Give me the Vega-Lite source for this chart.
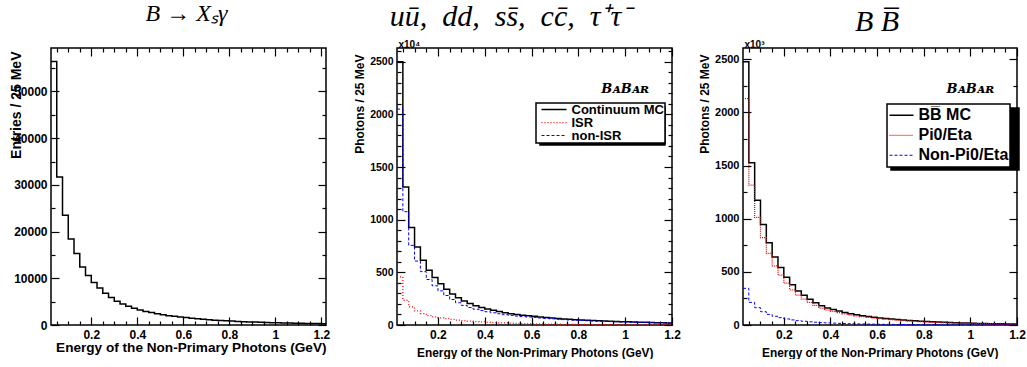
{
  "$schema": "https://vega.github.io/schema/vega-lite/v6.json",
  "background": "white",
  "padding": {"left": 8, "top": 0, "right": 0, "bottom": 0},
  "bounds": "flush",
  "spacing": 71,
  "config": {
    "view": {"stroke": "black", "strokeWidth": 1.5},
    "axis": {"grid": false, "domain": false, "tickColor": "black", "tickWidth": 1.2, "labelFont": "Liberation Sans", "labelFontWeight": "bold", "labelColor": "black", "titleFont": "Liberation Sans", "titleFontWeight": "bold", "titleColor": "black", "labelFlush": false, "labelOverlap": false},
    "title": {"font": "Liberation Serif", "fontStyle": "italic", "fontWeight": "normal", "fontSize": 24, "color": "black", "frame": "group", "anchor": "middle", "baseline": "alphabetic"},
    "legend": {"orient": "none", "title": null, "labelFont": "Liberation Sans", "labelFontWeight": "bold", "labelColor": "black", "symbolType": "stroke", "symbolStrokeWidth": 1.5, "labelOffset": 4, "strokeColor": "black", "strokeWidth": 1.5, "fillColor": "white", "rowPadding": 0}
  },
  "resolve": {"scale": {"color": "independent", "strokeDash": "independent", "strokeWidth": "independent", "shape": "independent"}, "legend": {"color": "independent", "shape": "independent"}},
  "hconcat": [
    {
      "width": 275, "height": 277,
      "title": {"text": "B  →  Xₛγ", "dx": -2, "offset": 21},
      "data": {"values": [
        {"x": 0.025, "v": 56400}, {"x": 0.05, "v": 31700}, {"x": 0.075, "v": 23500}, {"x": 0.1, "v": 18400},
        {"x": 0.125, "v": 15300}, {"x": 0.15, "v": 12400}, {"x": 0.175, "v": 10600}, {"x": 0.2, "v": 9100},
        {"x": 0.225, "v": 7900}, {"x": 0.25, "v": 6800}, {"x": 0.275, "v": 5900}, {"x": 0.3, "v": 5100},
        {"x": 0.325, "v": 4500}, {"x": 0.35, "v": 4000}, {"x": 0.375, "v": 3600}, {"x": 0.4, "v": 3200},
        {"x": 0.425, "v": 2900}, {"x": 0.45, "v": 2650}, {"x": 0.475, "v": 2400}, {"x": 0.5, "v": 2200},
        {"x": 0.525, "v": 2000}, {"x": 0.55, "v": 1850}, {"x": 0.575, "v": 1700}, {"x": 0.6, "v": 1580},
        {"x": 0.625, "v": 1450}, {"x": 0.65, "v": 1340}, {"x": 0.675, "v": 1230}, {"x": 0.7, "v": 1130},
        {"x": 0.725, "v": 1040}, {"x": 0.75, "v": 960}, {"x": 0.775, "v": 890}, {"x": 0.8, "v": 830},
        {"x": 0.825, "v": 770}, {"x": 0.85, "v": 715}, {"x": 0.875, "v": 665}, {"x": 0.9, "v": 620},
        {"x": 0.925, "v": 580}, {"x": 0.95, "v": 540}, {"x": 0.975, "v": 505}, {"x": 1.0, "v": 470},
        {"x": 1.025, "v": 440}, {"x": 1.05, "v": 410}, {"x": 1.075, "v": 385}, {"x": 1.1, "v": 360},
        {"x": 1.125, "v": 340}, {"x": 1.15, "v": 320}, {"x": 1.175, "v": 300}, {"x": 1.2, "v": 280},
        {"x": 1.225, "v": 280}
      ]},
      "layer": [
        {
          "mark": {"type": "line", "interpolate": "step-after", "clip": true, "color": "black", "strokeWidth": 1.5},
          "encoding": {
            "x": {"field": "x", "type": "quantitative", "scale": {"domain": [0.025, 1.22], "nice": false, "zero": false},
                  "axis": {"orient": "bottom", "values": [0.2, 0.4, 0.6, 0.8, 1, 1.2], "format": "~g", "tickSize": -8, "labelPadding": 12, "labelFontSize": 12,
                           "title": "Energy of the Non-Primary Photons (GeV)", "titleFontSize": 13.6, "titleAlign": "right", "titleAnchor": "end", "titleX": 275, "titleY": 26, "titleBaseline": "alphabetic"}},
            "y": {"field": "v", "type": "quantitative", "scale": {"domain": [0, 59300], "nice": false},
                  "axis": {"orient": "left", "values": [0, 10000, 20000, 30000, 40000, 50000], "format": "d", "tickSize": -8, "labelPadding": 12, "labelFontSize": 12,
                           "title": "Entries / 25 MeV", "titleFontSize": 14, "titleAngle": -90, "titleAlign": "right", "titleBaseline": "middle", "titleX": -35, "titleY": 3}}
          }
        },
        {
          "data": {"values": [{}]},
          "mark": {"type": "point", "opacity": 0},
          "encoding": {
            "x": {"datum": 0.5, "type": "quantitative", "axis": {"orient": "top", "values": [0.2, 0.4, 0.6, 0.8, 1, 1.2], "tickSize": -8, "labels": false, "title": null}},
            "y": {"datum": 1000, "type": "quantitative", "axis": {"orient": "right", "values": [0, 10000, 20000, 30000, 40000, 50000], "tickSize": -8, "labels": false, "title": null}}
          }
        },
        {
          "data": {"values": [{}]},
          "mark": {"type": "point", "opacity": 0},
          "encoding": {
            "x": {"datum": 0.5, "type": "quantitative", "axis": {"orient": "bottom", "values": [0.05, 0.1, 0.15, 0.25, 0.3, 0.35, 0.45, 0.5, 0.55, 0.65, 0.7, 0.75, 0.85, 0.9, 0.95, 1.05, 1.1, 1.15], "tickSize": -4, "labels": false, "title": null}},
            "y": {"datum": 1000, "type": "quantitative", "axis": {"orient": "left", "values": [5000, 15000, 25000, 35000, 45000, 55000], "tickSize": -4, "labels": false, "title": null}}
          }
        },
        {
          "data": {"values": [{}]},
          "mark": {"type": "point", "opacity": 0},
          "encoding": {
            "x": {"datum": 0.5, "type": "quantitative", "axis": {"orient": "top", "values": [0.05, 0.1, 0.15, 0.25, 0.3, 0.35, 0.45, 0.5, 0.55, 0.65, 0.7, 0.75, 0.85, 0.9, 0.95, 1.05, 1.1, 1.15], "tickSize": -4, "labels": false, "title": null}},
            "y": {"datum": 1000, "type": "quantitative", "axis": {"orient": "right", "values": [5000, 15000, 25000, 35000, 45000, 55000], "tickSize": -4, "labels": false, "title": null}}
          }
        }
      ],
      "resolve": {"axis": {"x": "independent", "y": "independent"}}
    },
    {
      "width": 275, "height": 277,
      "title": {"text": "uū,\u2002dd,\u2002ss̄,\u2002cc̄,\u2002τ⁺τ⁻", "fontSize": 30, "dx": -24, "offset": 8},
      "data": {"values": [
        {"x": 0.025, "mc": 2500, "isr": 456, "non": 2050}, {"x": 0.05, "mc": 1310, "isr": 234, "non": 1076},
        {"x": 0.075, "mc": 925, "isr": 171, "non": 756}, {"x": 0.1, "mc": 740, "isr": 133, "non": 607},
        {"x": 0.125, "mc": 615, "isr": 108, "non": 507}, {"x": 0.15, "mc": 520, "isr": 90, "non": 432},
        {"x": 0.175, "mc": 450, "isr": 78, "non": 372}, {"x": 0.2, "mc": 392, "isr": 68, "non": 324},
        {"x": 0.225, "mc": 340, "isr": 60, "non": 280}, {"x": 0.25, "mc": 295, "isr": 53, "non": 242},
        {"x": 0.275, "mc": 258, "isr": 47, "non": 211}, {"x": 0.3, "mc": 228, "isr": 42, "non": 186},
        {"x": 0.325, "mc": 203, "isr": 37, "non": 166}, {"x": 0.35, "mc": 183, "isr": 33, "non": 150},
        {"x": 0.375, "mc": 166, "isr": 29, "non": 137}, {"x": 0.4, "mc": 152, "isr": 26, "non": 126},
        {"x": 0.425, "mc": 139, "isr": 23, "non": 116}, {"x": 0.45, "mc": 128, "isr": 21, "non": 107},
        {"x": 0.475, "mc": 117, "isr": 19, "non": 98}, {"x": 0.5, "mc": 108, "isr": 17, "non": 91},
        {"x": 0.525, "mc": 100, "isr": 15, "non": 85}, {"x": 0.55, "mc": 93, "isr": 13.5, "non": 79.5},
        {"x": 0.575, "mc": 88, "isr": 12, "non": 76}, {"x": 0.6, "mc": 83, "isr": 11, "non": 72},
        {"x": 0.625, "mc": 77, "isr": 10, "non": 67}, {"x": 0.65, "mc": 72, "isr": 9, "non": 63},
        {"x": 0.675, "mc": 67, "isr": 8.2, "non": 58.8}, {"x": 0.7, "mc": 62, "isr": 7.5, "non": 54.5},
        {"x": 0.725, "mc": 58, "isr": 6.8, "non": 51.2}, {"x": 0.75, "mc": 54, "isr": 6.2, "non": 47.8},
        {"x": 0.775, "mc": 51, "isr": 5.6, "non": 45.4}, {"x": 0.8, "mc": 48, "isr": 5.1, "non": 42.9},
        {"x": 0.825, "mc": 45, "isr": 4.7, "non": 40.3}, {"x": 0.85, "mc": 42, "isr": 4.3, "non": 37.7},
        {"x": 0.875, "mc": 40, "isr": 4, "non": 36}, {"x": 0.9, "mc": 38, "isr": 3.7, "non": 34.3},
        {"x": 0.925, "mc": 36, "isr": 3.4, "non": 32.6}, {"x": 0.95, "mc": 34, "isr": 3.1, "non": 30.9},
        {"x": 0.975, "mc": 32, "isr": 2.9, "non": 29.1}, {"x": 1.0, "mc": 30, "isr": 2.7, "non": 27.3},
        {"x": 1.025, "mc": 28, "isr": 2.5, "non": 25.5}, {"x": 1.05, "mc": 27, "isr": 2.3, "non": 24.7},
        {"x": 1.075, "mc": 25, "isr": 2.1, "non": 22.9}, {"x": 1.1, "mc": 24, "isr": 2, "non": 22},
        {"x": 1.125, "mc": 22, "isr": 1.9, "non": 20.1}, {"x": 1.15, "mc": 21, "isr": 1.8, "non": 19.2},
        {"x": 1.175, "mc": 20, "isr": 1.7, "non": 18.3}, {"x": 1.2, "mc": 20, "isr": 1.7, "non": 18.3}
      ]},
      "layer": [
        {
          "data": {"values": [{"k": "shadow"}]},
          "mark": {"type": "point", "opacity": 0},
          "encoding": {
            "x": {"datum": 0.5, "type": "quantitative", "axis": {"orient": "bottom", "values": [0.05, 0.1, 0.15, 0.25, 0.3, 0.35, 0.45, 0.5, 0.55, 0.65, 0.7, 0.75, 0.85, 0.9, 0.95, 1.05, 1.1, 1.15], "tickSize": -4, "labels": false, "title": null}},
            "y": {"datum": 100, "type": "quantitative", "axis": {"orient": "left", "values": [100, 200, 300, 400, 600, 700, 800, 900, 1100, 1200, 1300, 1400, 1600, 1700, 1800, 1900, 2100, 2200, 2300, 2400, 2600], "tickSize": -4, "labels": false, "title": null}},
            "shape": {"field": "k", "type": "nominal", "legend": {"legendX": 143, "legendY": 59, "symbolSize": 625, "symbolOffset": 93, "symbolOpacity": 0, "clipHeight": 37, "padding": 0.5, "fillColor": "black", "labelExpr": "''"}}
          }
        },
        {
          "transform": [{"fold": ["mc", "isr", "non"], "as": ["s", "v"]}],
          "mark": {"type": "line", "interpolate": "step-after", "clip": true},
          "encoding": {
            "x": {"field": "x", "type": "quantitative", "scale": {"domain": [0.025, 1.2], "nice": false, "zero": false},
                  "axis": {"orient": "bottom", "values": [0.2, 0.4, 0.6, 0.8, 1, 1.2], "format": "~g", "tickSize": -8, "labelPadding": 12, "labelFontSize": 12,
                           "title": "Energy of the Non-Primary Photons (GeV)", "titleFontSize": 11.9, "titleAlign": "right", "titleAnchor": "end", "titleX": 256, "titleY": 31, "titleBaseline": "alphabetic"}},
            "y": {"field": "v", "type": "quantitative", "scale": {"domain": [0, 2630], "nice": false},
                  "axis": {"orient": "left", "values": [0, 500, 1000, 1500, 2000, 2500], "format": "d", "tickSize": -8, "labelPadding": 12, "labelFontSize": 10.5,
                           "title": "Photons / 25 MeV", "titleFontSize": 12, "titleAngle": -90, "titleAlign": "right", "titleBaseline": "middle", "titleX": -37.5, "titleY": 6}},
            "color": {"field": "s", "type": "nominal", "scale": {"domain": ["mc", "isr", "non"], "range": ["#000000", "#ff0000", "#0000ff"]},
                      "legend": {"legendX": 139, "legendY": 55, "labelFontSize": 13, "symbolSize": 625, "symbolOffset": 4, "clipHeight": 12, "rowPadding": -2, "padding": 0.5,
                                 "labelExpr": "datum.label == 'mc' ? 'Continuum MC' : datum.label == 'isr' ? 'ISR' : 'non-ISR'",
                                 "encode": {"symbols": {"update": {"stroke": {"signal": "datum.value == 'isr' ? '#ff0000' : datum.value == 'non' ? '#0000ff' : '#000000'"}, "strokeDash": {"signal": "datum.value == 'isr' ? [1, 2] : datum.value == 'non' ? [2, 1] : [1, 0]"}, "strokeWidth": {"signal": "datum.value == 'mc' ? 1.5 : 1.3"}}}}}},
            "strokeDash": {"field": "s", "type": "nominal", "scale": {"domain": ["mc", "isr", "non"], "range": [[1, 0], [1, 2], [3, 2]]}, "legend": null},
            "strokeWidth": {"field": "s", "type": "nominal", "scale": {"domain": ["mc", "isr", "non"], "range": [1.5, 1, 1.2]}, "legend": null}
          }
        },
        {
          "data": {"values": [{}]},
          "mark": {"type": "text", "text": "BᴀBᴀʀ", "font": "DejaVu Serif", "fontStyle": "italic", "fontWeight": "bold", "fontSize": 13, "color": "black"},
          "encoding": {
            "x": {"datum": 1.0, "type": "quantitative", "axis": {"orient": "top", "values": [0.2, 0.4, 0.6, 0.8, 1, 1.2], "tickSize": -8, "labels": false,
                  "title": "x10⁴", "titleFontSize": 10, "titleAngle": 0, "titleAlign": "left", "titleBaseline": "alphabetic", "titleX": 1, "titleY": -0.5}},
            "y": {"datum": 2240, "type": "quantitative", "axis": {"orient": "right", "values": [0, 500, 1000, 1500, 2000, 2500], "tickSize": -8, "labels": false, "title": null}}
          }
        },
        {
          "data": {"values": [{}]},
          "mark": {"type": "point", "opacity": 0},
          "encoding": {
            "x": {"datum": 0.5, "type": "quantitative", "axis": {"orient": "top", "values": [0.05, 0.1, 0.15, 0.25, 0.3, 0.35, 0.45, 0.5, 0.55, 0.65, 0.7, 0.75, 0.85, 0.9, 0.95, 1.05, 1.1, 1.15], "tickSize": -4, "labels": false, "title": null}},
            "y": {"datum": 100, "type": "quantitative", "axis": {"orient": "right", "values": [100, 200, 300, 400, 600, 700, 800, 900, 1100, 1200, 1300, 1400, 1600, 1700, 1800, 1900, 2100, 2200, 2300, 2400, 2600], "tickSize": -4, "labels": false, "title": null}}
          }
        }
      ],
      "resolve": {"axis": {"x": "independent", "y": "independent"}}
    },
    {
      "width": 274, "height": 277,
      "title": {"text": "B B̅", "fontSize": 30, "dx": -3, "offset": 3},
      "data": {"values": [
        {"x": 0.025, "bb": 2478, "pi": 2130, "npi": 345}, {"x": 0.05, "bb": 1528, "pi": 1317, "npi": 213},
        {"x": 0.075, "bb": 1173, "pi": 1012, "npi": 163}, {"x": 0.1, "bb": 947, "pi": 822, "npi": 125},
        {"x": 0.125, "bb": 775, "pi": 674, "npi": 100}, {"x": 0.15, "bb": 640, "pi": 557, "npi": 82},
        {"x": 0.175, "bb": 540, "pi": 470, "npi": 69}, {"x": 0.2, "bb": 450, "pi": 393, "npi": 57},
        {"x": 0.225, "bb": 378, "pi": 330, "npi": 48}, {"x": 0.25, "bb": 320, "pi": 280, "npi": 41},
        {"x": 0.275, "bb": 279, "pi": 244, "npi": 35}, {"x": 0.3, "bb": 242, "pi": 212, "npi": 30},
        {"x": 0.325, "bb": 210, "pi": 184, "npi": 26}, {"x": 0.35, "bb": 182, "pi": 160, "npi": 22.5},
        {"x": 0.375, "bb": 160, "pi": 140, "npi": 20}, {"x": 0.4, "bb": 145, "pi": 128, "npi": 17.5},
        {"x": 0.425, "bb": 131, "pi": 116, "npi": 15.5}, {"x": 0.45, "bb": 118, "pi": 104, "npi": 13.8},
        {"x": 0.475, "bb": 106, "pi": 94, "npi": 12.3}, {"x": 0.5, "bb": 96, "pi": 85, "npi": 11},
        {"x": 0.525, "bb": 88, "pi": 78, "npi": 9.8}, {"x": 0.55, "bb": 80, "pi": 71, "npi": 8.8},
        {"x": 0.575, "bb": 73, "pi": 65, "npi": 7.9}, {"x": 0.6, "bb": 67, "pi": 60, "npi": 7},
        {"x": 0.625, "bb": 61, "pi": 55, "npi": 6.3}, {"x": 0.65, "bb": 56, "pi": 50, "npi": 5.7},
        {"x": 0.675, "bb": 51, "pi": 46, "npi": 5.1}, {"x": 0.7, "bb": 47, "pi": 42, "npi": 4.6},
        {"x": 0.725, "bb": 43, "pi": 39, "npi": 4.1}, {"x": 0.75, "bb": 39, "pi": 35, "npi": 3.7},
        {"x": 0.775, "bb": 36, "pi": 32.5, "npi": 3.3}, {"x": 0.8, "bb": 33, "pi": 30, "npi": 3},
        {"x": 0.825, "bb": 30, "pi": 27.3, "npi": 2.7}, {"x": 0.85, "bb": 27.5, "pi": 25, "npi": 2.4},
        {"x": 0.875, "bb": 25, "pi": 22.8, "npi": 2.2}, {"x": 0.9, "bb": 23, "pi": 21, "npi": 2},
        {"x": 0.925, "bb": 21, "pi": 19.2, "npi": 1.8}, {"x": 0.95, "bb": 19.3, "pi": 17.7, "npi": 1.6},
        {"x": 0.975, "bb": 17.7, "pi": 16.2, "npi": 1.5}, {"x": 1.0, "bb": 16.2, "pi": 14.9, "npi": 1.3},
        {"x": 1.025, "bb": 15, "pi": 13.8, "npi": 1.2}, {"x": 1.05, "bb": 13.8, "pi": 12.7, "npi": 1.1},
        {"x": 1.075, "bb": 12.7, "pi": 11.7, "npi": 1}, {"x": 1.1, "bb": 11.7, "pi": 10.8, "npi": 0.9},
        {"x": 1.125, "bb": 10.8, "pi": 10, "npi": 0.8}, {"x": 1.15, "bb": 10, "pi": 9.2, "npi": 0.75},
        {"x": 1.175, "bb": 9.3, "pi": 8.6, "npi": 0.7}, {"x": 1.2, "bb": 9.3, "pi": 8.6, "npi": 0.7}
      ]},
      "layer": [
        {
          "data": {"values": [{"k": "shadow"}]},
          "mark": {"type": "point", "opacity": 0},
          "encoding": {
            "x": {"datum": 0.5, "type": "quantitative", "axis": {"orient": "bottom", "values": [0.05, 0.1, 0.15, 0.25, 0.3, 0.35, 0.45, 0.5, 0.55, 0.65, 0.7, 0.75, 0.85, 0.9, 0.95, 1.05, 1.1, 1.15], "tickSize": -4, "labels": false, "title": null}},
            "y": {"datum": 100, "type": "quantitative", "axis": {"orient": "left", "values": [250, 750, 1250, 1750, 2250], "tickSize": -4, "labels": false, "title": null}},
            "shape": {"field": "k", "type": "nominal", "legend": {"legendX": 148, "legendY": 60, "symbolSize": 576, "symbolOffset": 95, "symbolOpacity": 0, "clipHeight": 58.5, "padding": 1.5, "fillColor": "black", "labelExpr": "''"}}
          }
        },
        {
          "transform": [{"fold": ["bb", "pi", "npi"], "as": ["s", "v"]}],
          "mark": {"type": "line", "interpolate": "step-after", "clip": true},
          "encoding": {
            "x": {"field": "x", "type": "quantitative", "scale": {"domain": [0.025, 1.2], "nice": false, "zero": false},
                  "axis": {"orient": "bottom", "values": [0.2, 0.4, 0.6, 0.8, 1, 1.2], "format": "~g", "tickSize": -8, "labelPadding": 12, "labelFontSize": 12,
                           "title": "Energy of the Non-Primary Photons (GeV)", "titleFontSize": 11.9, "titleAlign": "right", "titleAnchor": "end", "titleX": 255, "titleY": 31, "titleBaseline": "alphabetic"}},
            "y": {"field": "v", "type": "quantitative", "scale": {"domain": [0, 2607], "nice": false},
                  "axis": {"orient": "left", "values": [0, 500, 1000, 1500, 2000, 2500], "format": "d", "tickSize": -8, "labelPadding": 12, "labelFontSize": 11,
                           "title": "Photons / 25 MeV", "titleFontSize": 12, "titleAngle": -90, "titleAlign": "right", "titleBaseline": "middle", "titleX": -38.5, "titleY": 6}},
            "color": {"field": "s", "type": "nominal", "scale": {"domain": ["bb", "pi", "npi"], "range": ["#000000", "#ff0000", "#0000ff"]},
                      "legend": {"legendX": 144, "legendY": 56, "labelFontSize": 16, "symbolSize": 576, "clipHeight": 19.5, "padding": 1.5,
                                 "labelExpr": "datum.label == 'bb' ? 'BB̅ MC' : datum.label == 'pi' ? 'Pi0/Eta' : 'Non-Pi0/Eta'",
                                 "encode": {"symbols": {"update": {"stroke": {"signal": "datum.value == 'pi' ? '#ff0000' : datum.value == 'npi' ? '#0000ff' : '#000000'"}, "strokeDash": {"signal": "datum.value == 'pi' ? [1, 1] : datum.value == 'npi' ? [2, 1] : [1, 0]"}, "strokeWidth": {"signal": "datum.value == 'bb' ? 1.5 : 1.3"}}}}}},
            "strokeDash": {"field": "s", "type": "nominal", "scale": {"domain": ["bb", "pi", "npi"], "range": [[1, 0], [1, 1], [3, 2]]}, "legend": null},
            "strokeWidth": {"field": "s", "type": "nominal", "scale": {"domain": ["bb", "pi", "npi"], "range": [1.5, 1, 1.2]}, "legend": null}
          }
        },
        {
          "data": {"values": [{}]},
          "mark": {"type": "text", "text": "BᴀBᴀʀ", "font": "DejaVu Serif", "fontStyle": "italic", "fontWeight": "bold", "fontSize": 13, "color": "black"},
          "encoding": {
            "x": {"datum": 1.0, "type": "quantitative", "axis": {"orient": "top", "values": [0.2, 0.4, 0.6, 0.8, 1, 1.2], "tickSize": -8, "labels": false,
                  "title": "x10³", "titleFontSize": 10, "titleAngle": 0, "titleAlign": "left", "titleBaseline": "alphabetic", "titleX": 1, "titleY": -0.5}},
            "y": {"datum": 2220, "type": "quantitative", "axis": {"orient": "right", "values": [0, 500, 1000, 1500, 2000, 2500], "tickSize": -8, "labels": false, "title": null}}
          }
        },
        {
          "data": {"values": [{}]},
          "mark": {"type": "point", "opacity": 0},
          "encoding": {
            "x": {"datum": 0.5, "type": "quantitative", "axis": {"orient": "top", "values": [0.05, 0.1, 0.15, 0.25, 0.3, 0.35, 0.45, 0.5, 0.55, 0.65, 0.7, 0.75, 0.85, 0.9, 0.95, 1.05, 1.1, 1.15], "tickSize": -4, "labels": false, "title": null}},
            "y": {"datum": 100, "type": "quantitative", "axis": {"orient": "right", "values": [250, 750, 1250, 1750, 2250], "tickSize": -4, "labels": false, "title": null}}
          }
        }
      ],
      "resolve": {"axis": {"x": "independent", "y": "independent"}}
    }
  ]
}
